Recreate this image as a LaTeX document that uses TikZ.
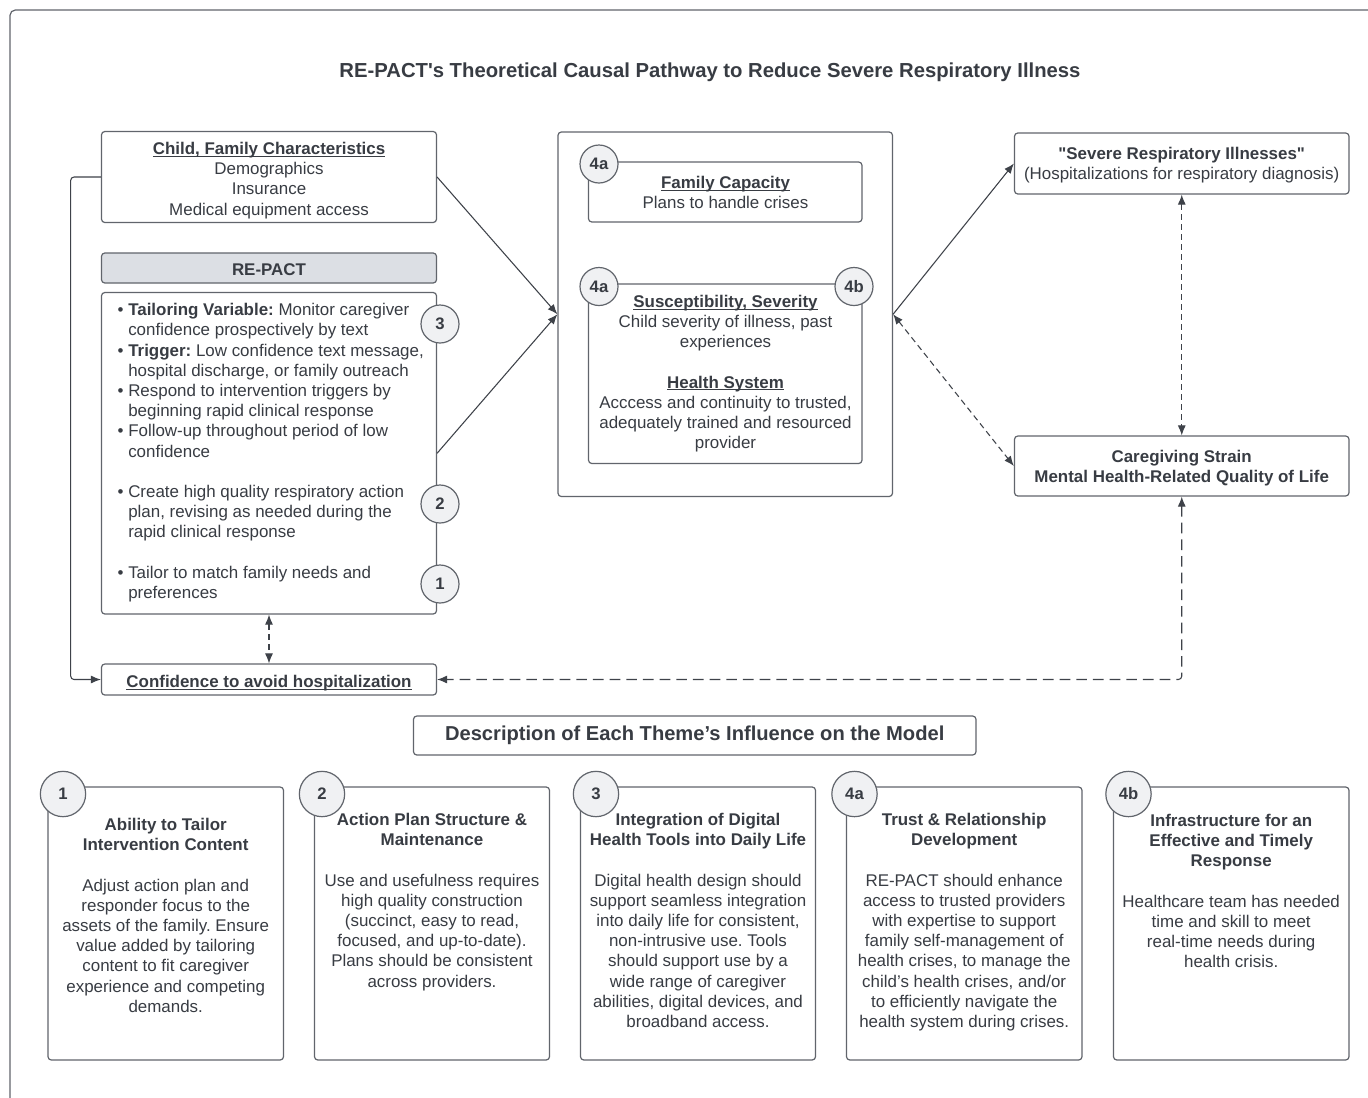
\documentclass[tikz,border=0pt]{standalone}
\usepackage{fontspec}
\setmainfont{Liberation Sans}[Ligatures=TeXOff]
\usetikzlibrary{arrows.meta,fit}
\definecolor{linec}{HTML}{61656C}
\definecolor{connc}{HTML}{3E4249}
\definecolor{textc}{HTML}{383C43}
\definecolor{hdrfill}{HTML}{DCDFE4}
\definecolor{circfill}{HTML}{F0F1F3}
\newcommand\myul[1]{\leavevmode\setbox0\hbox{#1}\rlap{\rule[-1.7pt]{\wd0}{0.8pt}}\box0}
\frenchspacing
\begin{document}
\begin{tikzpicture}[x=0.75pt,y=-0.75pt,
  box/.style={draw=linec, line width=0.9pt, rounded corners=2.5pt, fill=white, inner sep=0pt},
  hdrbox/.style={box, fill=hdrfill},
  txt/.style={text=textc, font=\fontsize{12.7}{15.15}\selectfont, align=center, inner sep=0pt, anchor=base},
  numc/.style={circle, draw=linec, line width=0.9pt, fill=circfill, minimum size=28.5pt, inner sep=0pt, text=textc, font=\fontsize{12.5}{14}\selectfont\bfseries},
  bignumc/.style={numc, minimum size=34pt},
  tip/.tip={Latex[length=7.5pt,width=6pt]},
  conn/.style={draw=connc, line width=0.8pt, -tip},
  dconn/.style={draw=connc, line width=0.8pt, dash pattern=on 4.5pt off 3pt, tip-tip},
  ldconn/.style={draw=connc, line width=0.8pt, dash pattern=on 8pt off 4.5pt, tip-tip, rounded corners=2.5pt},
  frame/.style={draw=linec, line width=0.9pt, rounded corners=4pt}
]
\useasboundingbox (0,0) rectangle (1368,1097);
\fill[white] (0,0) rectangle (1368,1097);
\draw[frame] (10,1100) -- (10,10) -- (1370,10);

% title (anchor base = last line baseline)
\node[txt, font=\fontsize{15.2}{18}\selectfont\bfseries] (title) at (710,77.3) {RE-PACT's Theoretical Causal Pathway to Reduce Severe Respiratory Illness};

% left column
\node[box, fit={(101.5,131.5)(436.5,222.5)}] (child) {};
\node[txt] (childt) at (269,215) {\myul{\textbf{Child, Family Characteristics}}\\Demographics\\Insurance\\Medical equipment access};

\node[hdrbox, fit={(101.5,253)(436.5,283)}] (hdr) {};
\node[txt] (hdrt) at (269,275.3) {\textbf{RE-PACT}};

\node[box, fit={(101.5,292.5)(436.5,614)}] (repact) {};
\node[txt, anchor=base west, align=left] (list) at (128,598.5) {%
\llap{\textbullet\hspace{3.6pt}}\textbf{Tailoring Variable:} Monitor caregiver\\
confidence prospectively by text\\
\llap{\textbullet\hspace{3.6pt}}\textbf{Trigger:} Low confidence text message,\\
hospital discharge, or family outreach\\
\llap{\textbullet\hspace{3.6pt}}Respond to intervention triggers by\\
beginning rapid clinical response\\
\llap{\textbullet\hspace{3.6pt}}Follow-up throughout period of low\\
confidence\\[15.15pt]
\llap{\textbullet\hspace{3.6pt}}Create high quality respiratory action\\
plan, revising as needed during the\\
rapid clinical response\\[15.15pt]
\llap{\textbullet\hspace{3.6pt}}Tailor to match family needs and\\
preferences};
\node[numc] (n3) at (440,324) {3};
\node[numc] (n2) at (440,504) {2};
\node[numc] (n1) at (440,584) {1};

\node[box, fit={(101.5,664)(436.5,695)}] (conf) {};
\node[txt] (conft) at (269,687.3) {\myul{\textbf{Confidence to avoid hospitalization}}};

% central column
\node[box, fit={(558,132)(892.5,496.5)}] (central) {};
\node[box, fit={(588.5,162)(862,222)}] (famcap) {};
\node[txt] (famcapt) at (725.5,208.5) {\myul{\textbf{Family Capacity}}\\Plans to handle crises};
\node[numc] (n4a1) at (599,164) {4a};

\node[box, fit={(588.5,284)(862,463.5)}] (suscep) {};
\node[txt] (suscept) at (725.5,448.8) {\myul{\textbf{Susceptibility, Severity}}\\Child severity of illness, past\\experiences\\[15.15pt]\myul{\textbf{Health System}}\\Acccess and continuity to trusted,\\adequately trained and resourced\\provider};
\node[numc] (n4a2) at (599,286.5) {4a};
\node[numc] (n4b) at (854,286.5) {4b};

% right column
\node[box, fit={(1014.5,133)(1349,194)}] (severe) {};
\node[txt] (severet) at (1181.7,179.5) {\textbf{"Severe Respiratory Illnesses"}\\(Hospitalizations for respiratory diagnosis)};
\node[box, fit={(1014.5,436)(1349,496)}] (care) {};
\node[txt] (caret) at (1181.7,482.2) {\textbf{Caregiving Strain}\\\textbf{Mental Health-Related Quality of Life}};

% connectors
\draw[conn] (child.east) -- (central.west);
\draw[conn] (repact.east) -- (central.west);
\draw[conn] (central.east) -- (severe.west);
\draw[dconn] (central.east) -- (care.west);
\draw[dconn] (severe.south) -- (care.north);
\draw[dconn] (repact.south) -- (conf.north);
\draw[ldconn] (care.south) |- (conf.east);
\draw[conn, rounded corners=2.5pt] (child.west) -- (70.7,177) |- (conf.west);

% description
\node[box, fit={(413.5,716)(976,755)}] (desc) {};
\node[txt, font=\fontsize{15.1}{18}\selectfont\bfseries] (desct) at (694.7,740.8) {Description of Each Theme’s Influence on the Model};

% bottom boxes
\node[box, fit={(48,787)(283.5,1060)}] (b1) {};
\node[box, fit={(314.5,787)(549.5,1060)}] (b2) {};
\node[box, fit={(580.5,787)(815.5,1060)}] (b3) {};
\node[box, fit={(846.5,787)(1082,1060)}] (b4) {};
\node[box, fit={(1113.5,787)(1349,1060)}] (b5) {};

\node[txt] (b1t) at (165.7,1012.3) {\textbf{Ability to Tailor}\\\textbf{Intervention Content}\\[15.15pt]Adjust action plan and\\responder focus to the\\assets of the family. Ensure\\value added by tailoring\\content to fit caregiver\\experience and competing\\demands.};
\node[txt] (b2t) at (432,987.1) {\textbf{Action Plan Structure \&}\\\textbf{Maintenance}\\[15.15pt]Use and usefulness requires\\high quality construction\\(succinct, easy to read,\\focused, and up-to-date).\\Plans should be consistent\\across providers.};
\node[txt] (b3t) at (698,1027.5) {\textbf{Integration of Digital}\\\textbf{Health Tools into Daily Life}\\[15.15pt]Digital health design should\\support seamless integration\\into daily life for consistent,\\non-intrusive use. Tools\\should support use by a\\wide range of caregiver\\abilities, digital devices, and\\broadband access.};
\node[txt] (b4t) at (964.2,1027.5) {\textbf{Trust \& Relationship}\\\textbf{Development}\\[15.15pt]RE-PACT should enhance\\access to trusted providers\\with expertise to support\\family self-management of\\health crises, to manage the\\child’s health crises, and/or\\to efficiently navigate the\\health system during crises.};
\node[txt] (b5t) at (1231.2,967.6) {\textbf{Infrastructure for an}\\\textbf{Effective and Timely}\\\textbf{Response}\\[15.15pt]Healthcare team has needed\\time and skill to meet\\real-time needs during\\health crisis.};

\node[bignumc] (m1) at (63,794) {1};
\node[bignumc] (m2) at (322,794) {2};
\node[bignumc] (m3) at (596,794) {3};
\node[bignumc] (m4a) at (854.5,794) {4a};
\node[bignumc] (m4b) at (1128.5,794) {4b};
\end{tikzpicture}
\end{document}
